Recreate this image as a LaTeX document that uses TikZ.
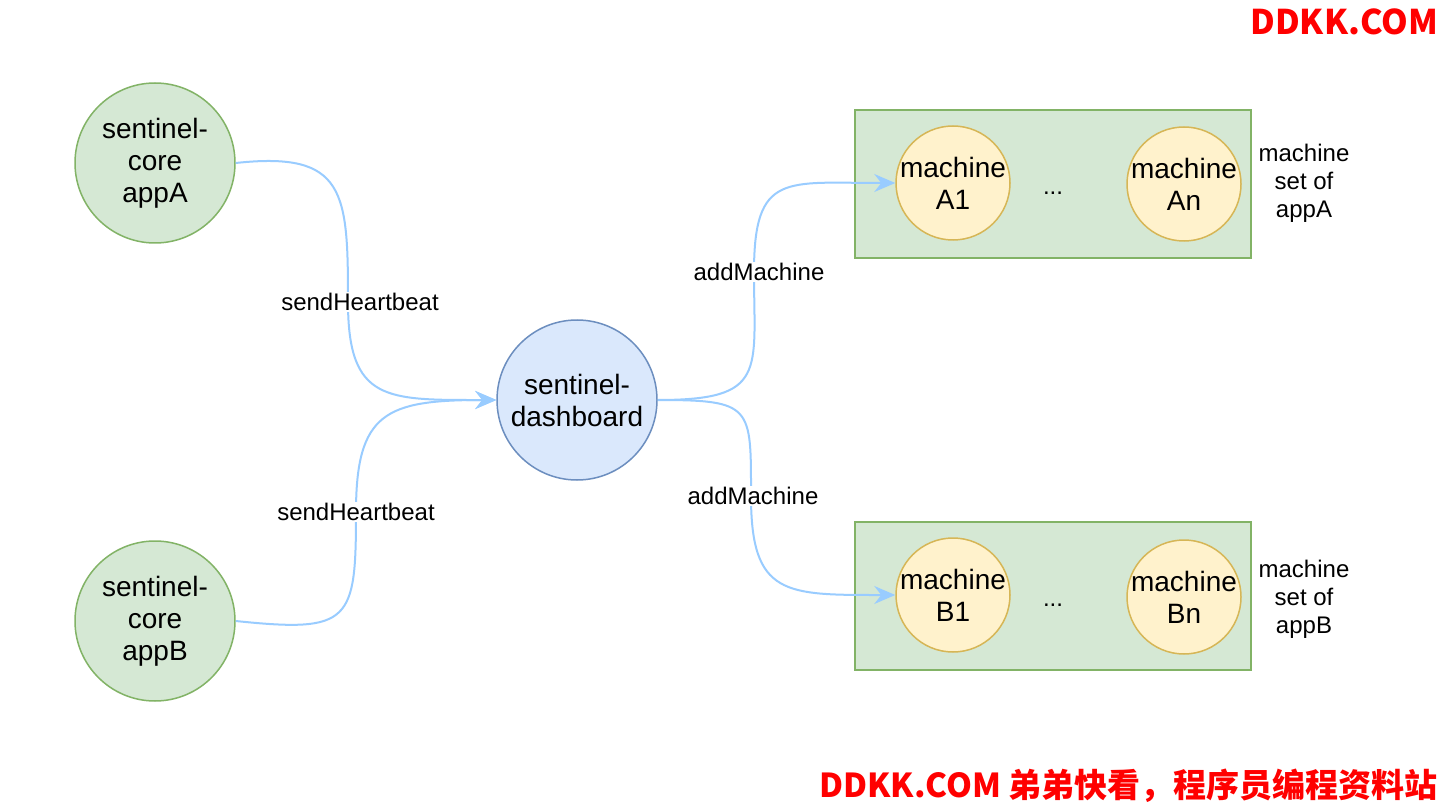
\documentclass[tikz,border=0pt]{standalone}
\usepackage{fontspec}
\setmainfont{Liberation Sans}
\newfontfamily\cjk{Noto Sans CJK SC}
\usetikzlibrary{arrows.meta}
\definecolor{grfill}{HTML}{D5E8D4}
\definecolor{grline}{HTML}{82B366}
\definecolor{blfill}{HTML}{DAE8FC}
\definecolor{blline}{HTML}{6C8EBF}
\definecolor{yefill}{HTML}{FFF2CC}
\definecolor{yeline}{HTML}{D6B656}
\definecolor{flowc}{HTML}{99CCFF}
\definecolor{mark}{HTML}{FF0000}
\tikzset{
  app/.style={circle, draw=grline, fill=grfill, line width=1.5pt, minimum size=160pt, inner sep=0pt, align=center, font=\fontsize{28}{32}\selectfont},
  dashb/.style={app, draw=blline, fill=blfill},
  setbox/.style={draw=grline, fill=grfill, line width=1.5pt, minimum width=396pt, minimum height=148pt, inner sep=0pt},
  mach/.style={circle, draw=yeline, fill=yefill, line width=1.5pt, minimum size=114pt, inner sep=-8pt, align=center, font=\fontsize{28}{32}\selectfont},
  flow/.style={draw=flowc, line width=2pt, -{Stealth[length=21pt, width=18pt, inset=7pt]}},
  lbl/.style={fill=white, inner sep=1pt, font=\fontsize{24}{28}\selectfont},
  note/.style={align=center, font=\fontsize{24}{28}\selectfont},
}
\begin{document}
\begin{tikzpicture}[x=1pt, y=-1pt]
    \useasboundingbox[fill=white] (0,0) rectangle (1440,802);
    % machine sets
    \node[setbox] (setA) at (1053,184) {};
    \node[setbox] (setB) at (1053,596) {};
    \node[mach] (mA1) at (953,183) {machine\\A1};
    \node[mach] (mAn) at (1184,184) {machine\\An};
    \node[mach] (mB1) at (953,595) {machine\\B1};
    \node[mach] (mBn) at (1184,597) {machine\\Bn};
    \node[lbl, fill=none] (dotsA) at (1053,193) {...};
    \node[lbl, fill=none] (dotsB) at (1053,605) {...};
    \node[note] (noteA) at (1304,183) {machine\\set of\\appA};
    \node[note] (noteB) at (1304,599) {machine\\set of\\appB};
    % apps and dashboard
    \node[app] (appA) at (155,163) {sentinel-\\core\\appA};
    \node[app] (appB) at (155,621) {sentinel-\\core\\appB};
    \node[dashb] (dash) at (577,400) {sentinel-\\dashboard};
    % connectors
    \draw[flow] (appA.east) .. controls +(110,-12) and +(0,-110) .. (348,302)
        node[lbl, xshift=12pt] (hbA) {sendHeartbeat}
        .. controls +(0,100) and +(-110,0) .. (dash.west);
    \draw[flow] (appB.east) .. controls +(115,12) and +(0,110) .. (356,512)
        node[lbl] (hbB) {sendHeartbeat}
        .. controls +(0,-100) and +(-110,0) .. (dash.west);
    \draw[flow] (dash.east) .. controls +(110,0) and +(0,100) .. (754,272)
        node[lbl, xshift=5pt] (amA) {addMachine}
        .. controls +(0,-100) and +(-110,0) .. (mA1.west);
    \draw[flow] (dash.east) .. controls +(95,0) and +(0,-90) .. (751,496)
        node[lbl, xshift=2pt] (amB) {addMachine}
        .. controls +(0,100) and +(-110,0) .. (mB1.west);
    % watermarks
    \node[anchor=east, text=mark, inner sep=0pt, font=\cjk\bfseries\fontsize{34}{38}\selectfont] (wmTop) at (1438,22) {DDKK.COM};
    \node[anchor=east, text=mark, inner sep=0pt, font=\cjk\bfseries\fontsize{33}{36}\selectfont] (wmBot) at (1438,786) {DDKK.COM 弟弟快看，程序员编程资料站};
\end{tikzpicture}
\end{document}
